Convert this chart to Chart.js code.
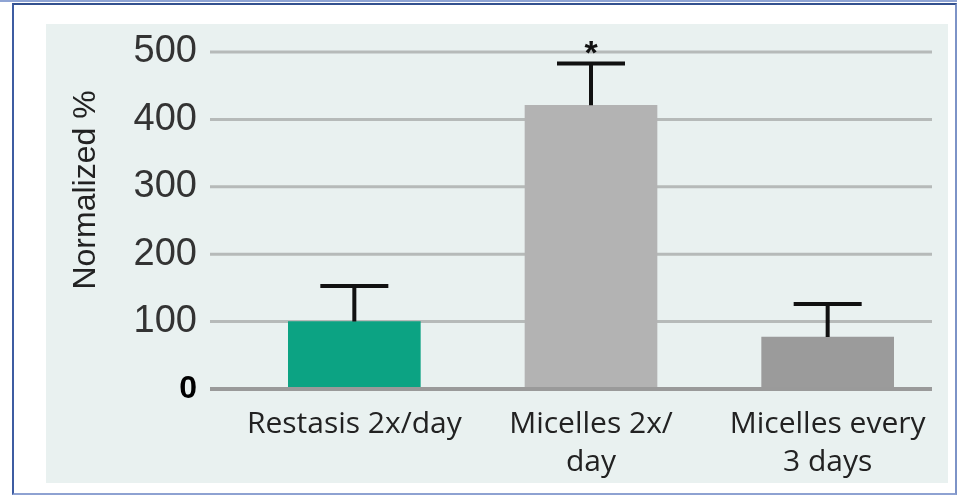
<!DOCTYPE html>
<html>
<head>
<meta charset="utf-8">
<script src="https://cdn.jsdelivr.net/npm/chart.js@4.4.1/dist/chart.umd.min.js"></script>
<style>
  html, body { margin: 0; padding: 0; background: #ffffff; }
  #wrap { position: relative; width: 957px; height: 495px; overflow: hidden; }
  #topline { position: absolute; left: 0; top: 0; width: 957px; height: 2px; background: #8fa4d4; }
  #frame {
    position: absolute; left: 12px; top: 3px; width: 941px; height: 488px;
    border-top: 2px solid #34518f; border-left: 2px solid #3d5ca2;
    border-right: 2px solid #7d93c7; border-bottom: 2px solid #8ea2d2;
  }
  #panel { position: absolute; left: 46px; top: 24px; width: 902px; height: 459px; background: #e9f1f0; }
  #chart { position: absolute; left: 0; top: 0; }
</style>
</head>
<body>
<div id="wrap">
  <div id="topline"></div>
  <div id="frame"></div>
  <div id="panel"></div>
  <canvas id="chart" width="957" height="495"></canvas>
</div>
<script>
// Treatment groups (multi-line labels as drawn under the bars)
const categories = [
  ['Restasis 2x/day'],
  ['Micelles 2x/', 'day'],
  ['Micelles every', '3 days']
];
// Mean normalized values and upper error (SD) for each group
const meanValues = [100, 421, 77];
const errorValues = [53, 62, 49];
// Significance markers shown above the error bars
const significance = ['', '*', ''];
// Y axis tick values
const yTicks = [0, 100, 200, 300, 400, 500];
const yTitle = 'Normalized %';

const barColors = ['#0ca383', '#b3b3b3', '#9b9b9b'];

// Horizontal extent of the gridlines
const GRID_X0 = 210, GRID_X1 = 932;

const gridPlugin = {
  id: 'customGrid',
  beforeDatasetsDraw(chart) {
    const y = chart.scales.y, ctx = chart.ctx;
    ctx.save();
    ctx.strokeStyle = '#b6bab9';
    ctx.lineWidth = 3;
    yTicks.forEach(v => {
      if (v === 0) return;
      const py = y.getPixelForValue(v);
      ctx.beginPath();
      ctx.moveTo(GRID_X0, py);
      ctx.lineTo(GRID_X1, py);
      ctx.stroke();
    });
    ctx.restore();
  },
  afterDatasetsDraw(chart) {
    const y = chart.scales.y, ctx = chart.ctx;
    const meta = chart.getDatasetMeta(0);
    ctx.save();
    // baseline at zero
    const p0 = y.getPixelForValue(0);
    ctx.strokeStyle = '#9a9a9a';
    ctx.lineWidth = 4;
    ctx.beginPath();
    ctx.moveTo(GRID_X0, p0);
    ctx.lineTo(GRID_X1, p0);
    ctx.stroke();
    // error bars (upper only) with caps
    ctx.strokeStyle = '#111111';
    ctx.lineWidth = 4;
    meta.data.forEach((el, i) => {
      const top = y.getPixelForValue(meanValues[i]);
      const cap = y.getPixelForValue(meanValues[i] + errorValues[i]);
      ctx.beginPath();
      ctx.moveTo(el.x, top);
      ctx.lineTo(el.x, cap);
      ctx.moveTo(el.x - 34, cap);
      ctx.lineTo(el.x + 34, cap);
      ctx.stroke();
      if (significance[i]) {
        ctx.fillStyle = '#111111';
        ctx.font = 'bold 34px "Liberation Sans", Arial, sans-serif';
        ctx.textAlign = 'center';
        ctx.textBaseline = 'alphabetic';
        ctx.fillText(significance[i], el.x, cap + 1);
      }
    });
    // rotated axis title
    ctx.translate(95, 190);
    ctx.rotate(-Math.PI / 2);
    ctx.fillStyle = '#222222';
    ctx.font = '32px "Liberation Sans", Arial, sans-serif';
    ctx.textAlign = 'center';
    ctx.textBaseline = 'alphabetic';
    ctx.fillText(yTitle, 0, 0);
    ctx.restore();
  }
};

new Chart(document.getElementById('chart'), {
  type: 'bar',
  data: {
    labels: categories,
    datasets: [{
      data: meanValues,
      backgroundColor: barColors,
      borderWidth: 0,
      barThickness: 132
    }]
  },
  options: {
    responsive: false,
    animation: false,
    layout: { padding: { top: 52, right: 11, bottom: 0, left: 0 } },
    plugins: { legend: { display: false }, tooltip: { enabled: false } },
    scales: {
      x: {
        grid: { display: false, drawTicks: false },
        border: { display: false },
        ticks: {
          color: '#222222',
          font: { family: '"Open Sans", Inter, sans-serif', size: 30, lineHeight: 1.25 },
          padding: 17,
          maxRotation: 0,
          autoSkip: false
        },
        afterFit(scale) { scale.height = 106; }
      },
      y: {
        min: 0,
        max: 500,
        afterBuildTicks(scale) { scale.ticks = yTicks.map(v => ({ value: v })); },
        grid: { display: false, drawTicks: false },
        border: { display: false },
        ticks: {
          padding: 39,
          color: c => (c.tick && c.tick.value === 0) ? '#000000' : '#333333',
          font: c => (c.tick && c.tick.value === 0)
            ? { family: '"Liberation Sans", Arial, sans-serif', size: 32, weight: 'bold' }
            : { family: '"Liberation Sans", Arial, sans-serif', size: 38 }
        },
        afterFit(scale) {
          scale.width = 236;
          scale.paddingTop = 20;
          scale.paddingBottom = 0;
        }
      }
    }
  },
  plugins: [gridPlugin]
});
</script>
</body>
</html>
